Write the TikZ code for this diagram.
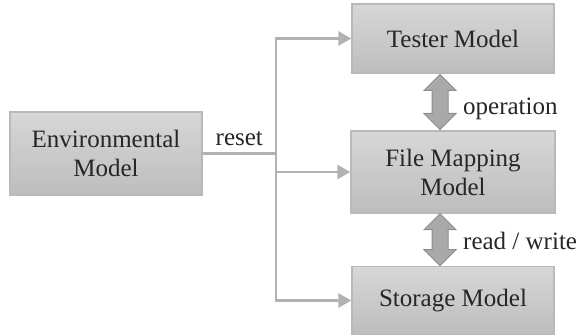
\documentclass[tikz,border=0pt]{standalone}
\usepackage{fontspec}
\setmainfont{Liberation Serif}
\usetikzlibrary{arrows.meta}
\usetikzlibrary{shapes.arrows}
\usetikzlibrary{positioning}
\definecolor{boxtop}{HTML}{D7D7D7}
\definecolor{boxbot}{HTML}{BDBDBD}
\definecolor{boxline}{HTML}{B9B9B9}
\definecolor{linkgray}{HTML}{B2B2B2}
\definecolor{fatfill}{HTML}{A9A9A9}
\definecolor{fatline}{HTML}{8E8E8E}

\begin{document}
\begin{tikzpicture}[x=1pt,y=-1pt,
  font=\fontsize{25}{29}\selectfont,
  model/.style={draw=boxline,line width=1.2pt,top color=boxtop,bottom color=boxbot,
    align=center,text=black!85,inner sep=0pt},
  link/.style={draw=linkgray,line width=2.5pt},
  fat/.style={double arrow,shape border rotate=90,draw=fatline,fill=fatfill,
    line width=1pt,inner xsep=7.5pt,inner ysep=0pt,double arrow head extend=8pt},
  tag/.style={text=black!85,inner sep=0pt}]
        \useasboundingbox (0,0) rectangle (578,336);
        \node[model,minimum width=192pt,minimum height=83pt] (env) at (106,153.5) {Environmental\\Model};
        \node[model,minimum width=202pt,minimum height=69pt] (tester) at (453,38.5) {Tester Model};
        \node[model,minimum width=204pt,minimum height=82pt] (filemap) at (453,172) {File Mapping\\Model};
        \node[model,minimum width=202pt,minimum height=68pt] (storage) at (453,300.5) {Storage Model};
        \coordinate (split) at (276,153.5);
        \draw[link] (env.east) -- node[tag,above=7pt] (resetlbl) {reset} (split);
        \foreach \n in {tester,filemap,storage} {
          \draw[link,-{Triangle[length=13pt,width=14pt]}] (split) |- (\n.west);
        }
        \path ([xshift=-13pt]tester.south) -- node[fat,minimum height=55pt] (oparrow) {} ([xshift=-13pt]filemap.north);
        \path ([xshift=-13pt]filemap.south) -- node[fat,minimum height=52pt] (rwarrow) {} ([xshift=-13pt]storage.north);
        \node[tag,anchor=base west] (oplbl) at ([shift={(23pt,-13pt)}]oparrow.center) {operation};
        \node[tag,anchor=base west] (rwlbl) at ([shift={(23pt,-10pt)}]rwarrow.center) {read / write};
      \end{tikzpicture}
\end{document}
